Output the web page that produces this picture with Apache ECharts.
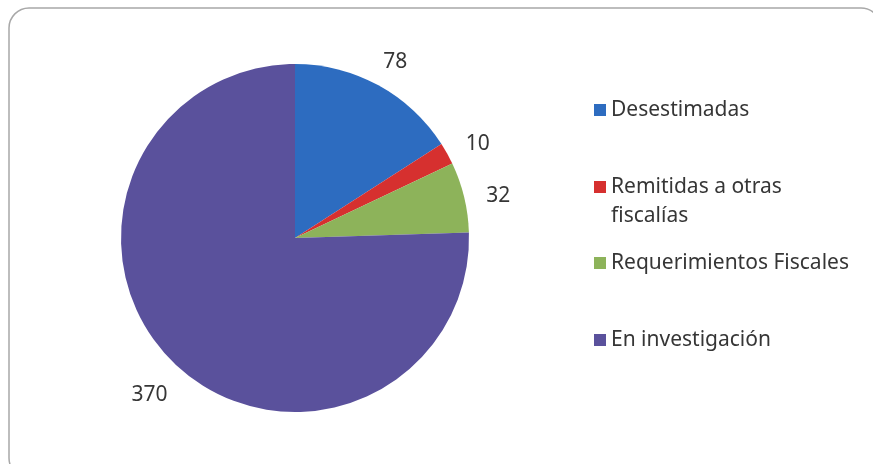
<!DOCTYPE html>
<html>
<head>
<meta charset="utf-8">
<script src="https://cdn.jsdelivr.net/npm/echarts@6/dist/echarts.min.js"></script>
<style>
  html, body { margin: 0; padding: 0; background: #ffffff; }
  #chart { width: 873px; height: 464px; }
</style>
</head>
<body>
<div id="chart"></div>
<script>
// Denuncias por estado
const categories = ['Desestimadas', 'Remitidas a otras fiscalías', 'Requerimientos Fiscales', 'En investigación'];
const values = [78, 10, 32, 370];
const colors = ['#2d6cc0', '#d6302f', '#8db35a', '#5a519c'];

const FONT = '"Noto Sans", "Open Sans", sans-serif';
const pieCenter = [295, 238];
const pieRadius = 174;

const data = categories.map((name, i) => ({ name: name, value: values[i] }));

// Legend text: the long entry wraps onto a second line, with a blank
// first line so the colour square lines up with the first text line.
function legendText(name) {
  if (name === 'Remitidas a otras fiscalías') return '\nRemitidas a otras\nfiscalías';
  return name;
}

const legendCenters = [110, 187, 263, 340];
const lineH = 29;
const legends = categories.map((name, i) => {
  const lines = legendText(name).split('\n').length;
  return {
    orient: 'vertical',
    left: 594,
    top: legendCenters[i] - (lines * lineH) / 2,
    padding: 0,
    itemWidth: 12,
    itemHeight: 12,
    itemGap: 0,
    icon: 'rect',
    data: [name],
    formatter: legendText,
    textStyle: { fontFamily: FONT, fontSize: 21, color: '#363636', lineHeight: lineH }
  };
});

const chart = echarts.init(document.getElementById('chart'), null, { renderer: 'canvas' });
chart.setOption({
  backgroundColor: '#ffffff',
  animation: false,
  color: colors,
  graphic: [{
    type: 'rect',
    shape: { x: 9, y: 8, width: 872, height: 470, r: 20 },
    style: { fill: 'none', stroke: '#a8a8a8', lineWidth: 1.5 },
    silent: true
  }],
  legend: legends,
  series: [
    {
      name: 'Denuncias',
      type: 'pie',
      center: pieCenter,
      radius: [0, pieRadius],
      startAngle: 90,
      clockwise: true,
      label: { show: false },
      labelLine: { show: false },
      emphasis: { scale: false },
      itemStyle: { borderWidth: 0 },
      data: data
    },
    {
      // value labels set just outside the pie, centred on each slice's mid-angle
      name: 'Etiquetas',
      type: 'pie',
      center: [pieCenter[0], pieCenter[1] + 7],
      radius: [pieRadius + 12, pieRadius + 52],
      startAngle: 90,
      clockwise: true,
      silent: true,
      legendHoverLink: false,
      itemStyle: { color: 'rgba(0,0,0,0)', borderWidth: 0 },
      label: {
        show: true,
        position: 'inside',
        formatter: '{c}',
        fontFamily: FONT,
        fontSize: 21,
        color: '#363636'
      },
      labelLine: { show: false },
      emphasis: { disabled: true },
      data: data
    }
  ]
});
</script>
</body>
</html>
